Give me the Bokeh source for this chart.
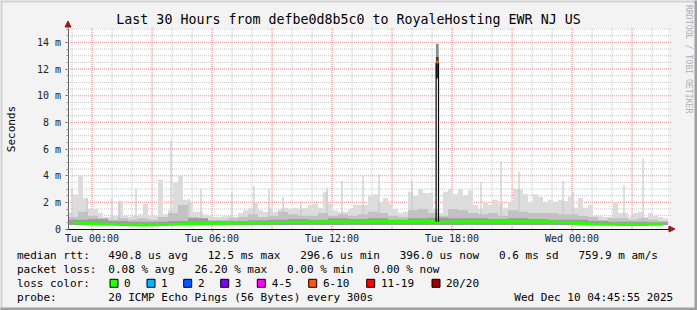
import numpy as np
from math import pi
from bokeh.plotting import figure
from bokeh.models import (Range1d, FixedTicker, Label, LinearAxis,
                          Arrow, NormalHead, ColumnDataSource)
from bokeh.embed import file_html
from bokeh.resources import INLINE

# ---------------- data ----------------
# time axis: hours relative to Tue 00:00
start_h = -1.2
end_h = 28.8
y_top = 15.08

# max ping (light smoke) per 15-minute bin, ms
bin_h = 0.25
smoke_max = [1.2, 2.6, 4.0, 2.3, 1.5, 1.5, 1.2, 0.9, 0.9, 1.0,
             2.1, 1.0, 0.9, 1.0, 1.1, 1.9, 1.0, 1.0, 3.7, 1.1,
             1.4, 3.5, 4.0, 2.2, 2.0, 1.3, 1.3, 1.1, 1.0, 0.9,
             0.9, 1.0, 1.0, 0.9, 1.2, 1.4, 1.6, 2.0, 1.4, 1.3,
             1.6, 1.3, 1.5, 1.6, 1.5, 1.6, 1.5, 1.6, 1.8, 1.9,
             1.6, 2.8, 1.9, 1.4, 1.3, 1.3, 1.5, 1.8, 1.8, 1.8,
             2.5, 2.6, 2.0, 2.3, 1.9, 1.5, 1.2, 1.3, 2.8, 2.5,
             3.0, 2.7, 2.7, 1.5, 1.2, 2.8, 3.0, 2.6, 3.0, 2.5,
             2.9, 1.8, 1.5, 2.0, 1.8, 2.2, 1.9, 1.6, 2.0, 3.0,
             3.0, 2.6, 2.0, 2.6, 2.4, 2.0, 2.2, 2.0, 2.2, 2.1,
             2.4, 1.6, 2.3, 1.6, 1.8, 1.0, 1.0, 0.9, 0.9, 2.0,
             1.2, 1.2, 0.9, 1.2, 1.3, 0.9, 1.2, 1.0, 0.9, 0.8]

# middle smoke per 30-minute bin, ms
mid_h = 0.5
smoke_mid = [0.9, 1.3, 1.0, 0.8, 0.7, 0.8, 0.7, 0.8, 0.7, 0.9,
             1.2, 1.8, 0.9, 0.8, 0.7, 0.7, 0.8, 0.9, 1.1, 0.9,
             1.0, 1.3, 1.1, 1.0, 1.0, 1.2, 1.0, 1.1, 1.0, 1.1,
             1.3, 1.2, 1.0, 0.9, 1.4, 1.5, 1.2, 1.0, 1.5, 1.4,
             1.2, 1.1, 1.2, 1.0, 1.4, 1.3, 1.2, 1.2, 1.2, 1.1,
             1.1, 1.0, 0.9, 0.7, 0.8, 0.8, 0.7, 0.8, 0.7, 0.6]

# dark smoke per 1-hour bin, ms
dark_h = 1.0
smoke_dark = [0.7, 0.75, 0.6, 0.55, 0.55, 0.6, 0.8, 0.6, 0.6, 0.65,
              0.7, 0.75, 0.7, 0.8, 0.75, 0.8, 0.7, 0.8, 0.85, 0.8,
              0.8, 0.75, 0.8, 0.75, 0.7, 0.7, 0.6, 0.55, 0.55, 0.5]

smoke_floor = 0.3

# median rtt per 30-minute bin, ms
median_ms = [0.47, 0.45, 0.42, 0.38, 0.36, 0.33, 0.32, 0.30, 0.32, 0.34,
             0.36, 0.40, 0.42, 0.44, 0.45, 0.44, 0.46, 0.45, 0.47, 0.47,
             0.47, 0.48, 0.50, 0.50, 0.52, 0.53, 0.55, 0.52, 0.53, 0.55,
             0.55, 0.57, 0.56, 0.58, 0.55, 0.56, 0.57, 0.50, 0.52, 0.55,
             0.55, 0.55, 0.55, 0.58, 0.55, 0.54, 0.55, 0.55, 0.52, 0.50,
             0.45, 0.42, 0.38, 0.36, 0.35, 0.34, 0.35, 0.34, 0.35, 0.36]

# single thin ping spikes
spike_t = [-1.0, -0.25, 1.0, 1.35, 2.2, 3.95, 4.85, 5.45, 7.0, 8.1, 8.85,
           9.55, 10.45, 11.75, 12.5, 13.55, 14.35, 16.0, 19.45, 20.45,
           21.35, 23.55, 24.05, 26.6, 27.55]
spike_ms = [3.0, 2.3, 2.3, 2.1, 3.0, 6.6, 2.3, 3.0, 2.7, 3.2, 3.0,
            2.4, 2.1, 3.1, 3.6, 4.0, 4.1, 3.6, 3.5, 5.1,
            4.3, 3.6, 2.8, 3.3, 5.3]

# the burst at Tue 17:15
burst_t = 17.265
burst_median = 12.5
burst_top = 13.9
burst_low = 11.3
burst_base = 0.55
loss1_t = 17.18
loss1_ms = 2.37

tick_hours = [0, 6, 12, 18, 24]
tick_labels = ["Tue 00:00", "Tue 06:00", "Tue 12:00", "Tue 18:00", "Wed 00:00"]
ytick_vals = [0, 2, 4, 6, 8, 10, 12, 14]
ytick_labels = ["0", "2 m", "4 m", "6 m", "8 m", "10 m", "12 m", "14 m"]
hours_minor = list(range(-1, 29))
hours_major = list(range(0, 29, 3))
ms_minor = [0.5 * k for k in range(1, 31)]

loss_labels = ["0", "1", "2", "3", "4-5", "6-10", "11-19", "20/20"]
loss_colors = ["#26ff00", "#00b8ff", "#0059ff", "#7e00ff", "#ff00ff",
               "#ff5500", "#ff0000", "#a10000"]

title_text = "Last 30 Hours from defbe0d8b5c0 to RoyaleHosting EWR NJ US"
rtt_text = "490.8 us avg   12.5 ms max   296.6 us min   396.0 us now   0.6 ms sd   759.9 m am/s"
loss_text = "0.08 % avg   26.20 % max   0.00 % min   0.00 % now"
probe_text = "20 ICMP Echo Pings (56 Bytes) every 300s"
date_text = "Wed Dec 10 04:45:55 2025"

# ---------------- layout (pixel -> data helpers for placement) ----------------
W, H = 697, 310
FL, FT, FR, FB = 67, 27, 667, 228
def X(px):
    return start_h + (px - FL) * (end_h - start_h) / (FR - FL)
def Y(py):
    return (FB - py) * y_top / (FB - FT)

MONO = "DejaVu Sans Mono"

# ranges offset by half a pixel so that 1px grid lines land on pixel centres
p = figure(width=W, height=H, output_backend="svg", toolbar_location=None,
           x_range=Range1d(X(-0.5), X(W - 0.5)), y_range=Range1d(Y(H - 0.5), Y(-0.5)),
           x_axis_location=None, y_axis_location=None,
           min_border=0, min_border_left=0, min_border_right=0,
           min_border_top=0, min_border_bottom=0)
p.background_fill_color = "#f3f3f3"
p.border_fill_color = "#f3f3f3"
p.outline_line_color = None
p.xgrid.visible = False
p.ygrid.visible = False

# image frame shading
p.quad(left=[X(-1)], right=[X(W)], top=[Y(-1)], bottom=[Y(1.5)], fill_color="#d2d2d2", line_color=None)
p.quad(left=[X(-1)], right=[X(1.5)], top=[Y(-1)], bottom=[Y(H)], fill_color="#d2d2d2", line_color=None)
p.quad(left=[X(W - 3.5)], right=[X(W + 1)], top=[Y(-1)], bottom=[Y(H + 1)], fill_color="#a0a0a0", line_color=None)
p.quad(left=[X(-1)], right=[X(W + 1)], top=[Y(H - 3.5)], bottom=[Y(H + 1)], fill_color="#a0a0a0", line_color=None)

# plot area
p.quad(left=[start_h], right=[end_h], bottom=[0], top=[y_top], fill_color="white", line_color=None)

# grid (minor grey, major red, dotted)
p.segment(x0=hours_minor, x1=hours_minor, y0=0, y1=y_top,
          line_color="#c4c4c4", line_width=1, line_dash="1 1")
p.segment(x0=start_h, x1=X(FR + 3), y0=ms_minor, y1=ms_minor,
          line_color="#c4c4c4", line_width=1, line_dash="1 1")
p.segment(x0=hours_major, x1=hours_major, y0=0, y1=y_top,
          line_color="#ff9c9c", line_width=1, line_dash="1 1")
p.segment(x0=start_h, x1=X(FR + 3), y0=ytick_vals[1:], y1=ytick_vals[1:],
          line_color="#ff9c9c", line_width=1, line_dash="1 1")

# smoke layers
def bins(vals, width):
    left = start_h + width * np.arange(len(vals))
    return ColumnDataSource(dict(left=left, right=left + width,
                                 top=vals, bottom=[smoke_floor] * len(vals)))

p.quad(source=bins(smoke_max, bin_h), left="left", right="right", top="top",
       bottom="bottom", fill_color="#dcdcdc", line_color=None)
p.vbar(x=spike_t, top=spike_ms, bottom=smoke_floor, width=0.06,
       fill_color="#c8c8c8", line_color=None)
p.quad(source=bins(smoke_mid, mid_h), left="left", right="right", top="top",
       bottom="bottom", fill_color="#c2c2c2", line_color=None)
p.quad(source=bins(smoke_dark, dark_h), left="left", right="right", top="top",
       bottom="bottom", fill_color="#9c9c9c", line_color=None)

# median line
mt = start_h + mid_h * (np.arange(len(median_ms)) + 0.5)
p.line(x=mt, y=median_ms, line_color=loss_colors[0], line_width=3)

# burst
p.quad(left=[burst_t - 0.07], right=[burst_t + 0.07], bottom=[burst_median + 0.4],
       top=[burst_top], fill_color="#8c8c8c", line_color=None)
p.quad(left=[burst_t - 0.07], right=[burst_t + 0.07], bottom=[burst_low],
       top=[burst_median + 0.4], fill_color="#3c3c3c", line_color=None)
p.segment(x0=[burst_t - 0.06, burst_t + 0.06], x1=[burst_t - 0.06, burst_t + 0.06],
          y0=[burst_base, burst_base], y1=[burst_median, burst_median],
          line_color="black", line_width=1.2)
p.quad(left=[burst_t - 0.06], right=[burst_t + 0.06], bottom=[burst_median - 0.08],
       top=[burst_median + 0.12], fill_color=loss_colors[5], line_color=None)
p.quad(left=[loss1_t - 0.03], right=[loss1_t + 0.03], bottom=[loss1_ms - 0.12],
       top=[loss1_ms + 0.12], fill_color=loss_colors[1], line_color=None)

# axes (library axes, pinned at the plot-area edges)
xa = LinearAxis(fixed_location=0, bounds=(start_h, end_h),
                ticker=FixedTicker(ticks=tick_hours, minor_ticks=hours_minor))
xa.major_label_overrides = {h: l for h, l in zip(tick_hours, tick_labels)}
xa.axis_line_color = "black"
xa.major_tick_out = 2
xa.major_tick_in = 0
xa.minor_tick_out = 0
xa.minor_tick_in = 0
xa.major_tick_line_color = "#888888"
xa.major_label_standoff = 2
xa.major_label_text_font = MONO
xa.major_label_text_font_size = "10px"
xa.major_label_text_color = "#222222"
p.add_layout(xa, "below")

ya = LinearAxis(fixed_location=start_h, bounds=(0, y_top),
                ticker=FixedTicker(ticks=ytick_vals, minor_ticks=ms_minor))
ya.major_label_overrides = {v: l for v, l in zip(ytick_vals, ytick_labels)}
ya.axis_line_color = "#606060"
ya.major_tick_out = 3
ya.major_tick_in = 0
ya.minor_tick_out = 2
ya.minor_tick_in = 0
ya.major_tick_line_color = "#606060"
ya.minor_tick_line_color = "#909090"
ya.major_label_standoff = 4
ya.major_label_text_font = MONO
ya.major_label_text_font_size = "10px"
ya.major_label_text_color = "#222222"
p.add_layout(ya, "left")

# axis arrows
p.add_layout(Arrow(x_start=start_h, y_start=y_top, x_end=start_h, y_end=Y(20),
                   line_color="#606060", line_width=1,
                   end=NormalHead(size=6, fill_color="#9a1a1a", line_color="#9a1a1a")))
p.add_layout(Arrow(x_start=end_h, y_start=0, x_end=X(674), y_end=0,
                   line_color="black", line_width=1,
                   end=NormalHead(size=6, fill_color="#9a1a1a", line_color="#9a1a1a")))

NBSP = "\u00a0"
def lab(px, py, text, size="11px", color="black", align="left", angle=0.0):
    p.add_layout(Label(x=X(px), y=Y(py), text=text.replace(" ", NBSP), text_font=MONO,
                       text_font_size=size, text_color=color, text_align=align,
                       text_baseline="middle", angle=angle))

lab(347.5, 18, title_text, size="13.3px", align="center")
lab(687.5, 4, "RRDTOOL / TOBI OETIKER", size="8.2px", color="#b0b0b0", angle=-pi / 2)
lab(10, 128, "Seconds", size="11px", align="center", angle=pi / 2)

# legend
L1, L2, L3, L4 = 254.7, 268.3, 282.3, 296
lab(16, L1, "median rtt:")
lab(107.3, L1, rtt_text)
lab(16, L2, "packet loss:")
lab(107.3, L2, loss_text)
lab(16, L3, "loss color:")
box_x = [109, 146, 182.7, 219.7, 256.3, 307.7, 365.7, 431]
lbl_x = [123, 160, 197, 233.7, 270.7, 322, 380, 445]
p.quad(left=[X(b) for b in box_x], right=[X(b + 8) for b in box_x],
       top=Y(L3 - 4), bottom=Y(L3 + 4), fill_color=loss_colors,
       line_color="black", line_width=1)
for tx, t in zip(lbl_x, loss_labels):
    lab(tx, L3, t)
lab(16, L4, "probe:")
lab(107.3, L4, probe_text)
lab(513.3, L4, date_text)

open("out.html", "w").write(file_html(p, INLINE))
